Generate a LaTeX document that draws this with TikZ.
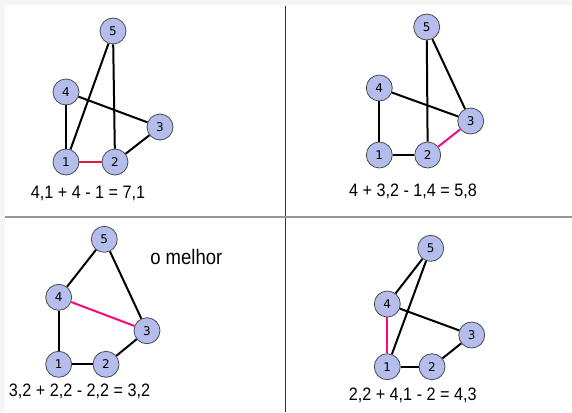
\documentclass[tikz,border=0pt]{standalone}
\usepackage{fontspec}
\setmainfont{Liberation Sans}
\newfontfamily\vertexfont{DejaVu Sans}
\usepackage{tikz}
\definecolor{softGray}{RGB}{246,246,246}
\definecolor{vertexBlue}{RGB}{180,189,235}
\definecolor{deepRed}{RGB}{232,24,56}
\definecolor{hotPink}{RGB}{250,10,120}
\definecolor{lineGray}{RGB}{150,150,150}
\definecolor{lineDark}{RGB}{50,50,50}

\begin{document}
\begin{tikzpicture}[x=1pt, y=-1pt,
    vertex/.style={draw=black!70, circle, fill=vertexBlue, minimum size=26pt, inner sep=0pt, line width=0.8pt, font=\vertexfont\fontsize{12}{12}\selectfont},
    edge/.style={line width=2pt},
    sum/.style={font=\fontsize{18}{18}\selectfont, xscale=0.9, transform shape}]
    % page and frame
    \fill[softGray] (0,0) rectangle (572,412);
    \fill[white] (5,5) rectangle (572,412);
    \useasboundingbox (0,0) rectangle (572,412);
    \coordinate (TOP) at (285.5,6);
    \coordinate (BOT) at (285.5,412);
    \coordinate (LEFT) at (5,217);
    \coordinate (RIGHT) at (572,217);
    \draw[lineDark, line width=1.2pt] (TOP) -- (BOT);
    \draw[lineGray, line width=2pt] (LEFT) -- (RIGHT);

    % top left
    \node[vertex] (A5) at (113,31) {5};
    \node[vertex] (A4) at (66,92) {4};
    \node[vertex] (A3) at (160,127) {3};
    \node[vertex] (A1) at (66,162) {1};
    \node[vertex] (A2) at (115,162) {2};
    \draw[edge] (A5) -- (A1);
    \draw[edge] (A5) -- (A2);
    \draw[edge] (A4) -- (A1);
    \draw[edge] (A4) -- (A3);
    \draw[edge] (A3) -- (A2);
    \draw[edge, deepRed] (A1) -- (A2);
    \node[sum] (SUMA) at (88,193) {4,1 + 4 - 1 = 7,1};

    % top right
    \node[vertex] (B5) at (426.7,27) {5};
    \node[vertex] (B4) at (379.3,88) {4};
    \node[vertex] (B3) at (470.7,121) {3};
    \node[vertex] (B1) at (379.3,155) {1};
    \node[vertex] (B2) at (427.7,155) {2};
    \draw[edge] (B5) -- (B2);
    \draw[edge] (B5) -- (B3);
    \draw[edge] (B4) -- (B3);
    \draw[edge] (B4) -- (B1);
    \draw[edge] (B1) -- (B2);
    \draw[edge, hotPink] (B2) -- (B3);
    \node[sum] (SUMB) at (413,191.5) {4 + 3,2 - 1,4 = 5,8};

    % bottom left
    \node[vertex] (C5) at (104.3,239.3) {5};
    \node[vertex] (C4) at (58.7,297.3) {4};
    \node[vertex] (C3) at (147,330.7) {3};
    \node[vertex] (C1) at (58.7,364.3) {1};
    \node[vertex] (C2) at (106,364.3) {2};
    \draw[edge] (C5) -- (C4);
    \draw[edge] (C5) -- (C3);
    \draw[edge] (C4) -- (C1);
    \draw[edge] (C1) -- (C2);
    \draw[edge] (C2) -- (C3);
    \draw[edge, hotPink] (C4) -- (C3);
    \node[sum] (SUMC) at (79.5,391.5) {3,2 + 2,2 - 2,2 = 3,2};
    \node[font=\fontsize{21}{21}\selectfont, xscale=0.88, transform shape] (BEST) at (186.3,257) {o melhor};

    % bottom right
    \node[vertex] (D5) at (430.7,248.3) {5};
    \node[vertex] (D4) at (387.3,304) {4};
    \node[vertex] (D3) at (471.7,335) {3};
    \node[vertex] (D1) at (387.3,366.7) {1};
    \node[vertex] (D2) at (432,366.7) {2};
    \draw[edge] (D5) -- (D4);
    \draw[edge] (D5) -- (D1);
    \draw[edge] (D4) -- (D3);
    \draw[edge] (D1) -- (D2);
    \draw[edge] (D2) -- (D3);
    \draw[edge, hotPink] (D4) -- (D1);
    \node[sum] (SUMD) at (412.7,395.5) {2,2 + 4,1 - 2 = 4,3};
\end{tikzpicture}
\end{document}
